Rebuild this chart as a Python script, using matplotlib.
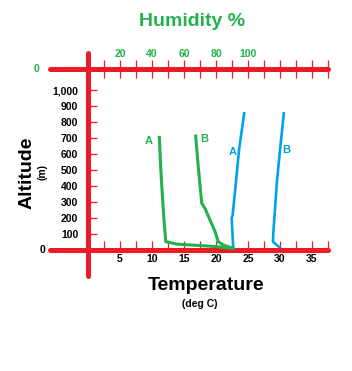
"""Temperature and humidity profiles against altitude."""

import matplotlib
matplotlib.use('Agg')
from matplotlib import pyplot as plt
from matplotlib.ticker import FixedLocator, FuncFormatter, NullFormatter

plt.rcParams['font.family'] = ['Liberation Sans', 'DejaVu Sans']
plt.rcParams['font.weight'] = 'bold'

RED = '#ED1C24'
GREEN = '#22B14C'
BLUE = '#00A2E8'

# Temperature profiles (deg C) against altitude (m)
temp_a_alt = [10, 198, 219, 417, 625, 854]
temp_a = [22.7, 22.45, 22.6, 23.1, 23.6, 24.4]
temp_b_alt = [10, 52, 104, 417, 625, 854]
temp_b = [30.1, 28.9, 28.95, 29.5, 30.0, 30.6]

# Humidity profiles (%) against altitude (m)
hum_a_alt = [704, 521, 354, 187, 52, 37, 29, 21, 10]
hum_a = [44.6, 45.4, 46.4, 47.5, 48.6, 55.4, 67.9, 80.4, 89.8]
hum_b_alt = [712, 521, 292, 260, 187, 115, 52, 31, 10]
hum_b = [67.3, 68.9, 71.1, 73.1, 76.3, 79.4, 81.4, 84.6, 90.8]

temp_ticks = [5, 10, 15, 20, 25, 30, 35]
hum_ticks = [20, 40, 60, 80, 100]
alt_ticks = [100, 200, 300, 400, 500, 600, 700, 800, 900, 1000]

W, H = 352, 371

fig = plt.figure(figsize=(W / 100, H / 100), dpi=100)
fig.patch.set_facecolor('white')

# temperature / altitude axes (whole figure, 6.4 px per deg, 16 px per 100 m)
ax = fig.add_axes([0, 0, 1, 1])
ax.set_xlim(-88 / 6.4, (W - 88) / 6.4)
ax.set_ylim(-(H - 250) * 6.25, 250 * 6.25)
ax.patch.set_visible(False)
for s in ['top', 'right']:
    ax.spines[s].set_visible(False)
for s in ['left', 'bottom']:
    ax.spines[s].set_color(RED)
    ax.spines[s].set_linewidth(3.6)
    ax.spines[s].set_capstyle('round')
    ax.spines[s].set_position(('data', 0))
ax.spines['bottom'].set_bounds(-38 / 6.4, 240 / 6.4)
ax.spines['left'].set_bounds(-162, 1231)

ax.xaxis.set_major_locator(FixedLocator(temp_ticks))
ax.xaxis.set_minor_locator(FixedLocator([t - 2.5 for t in temp_ticks] + [37.5]))
ax.xaxis.set_minor_formatter(NullFormatter())
ax.tick_params(axis='x', which='both', direction='in', length=6.5, width=0.9,
               color=RED, labelsize=7.5, pad=3)
ax.yaxis.set_major_locator(FixedLocator(alt_ticks))
ax.yaxis.set_major_formatter(FuncFormatter(lambda v, p: '{:,}'.format(int(v))))
ax.tick_params(axis='y', direction='in', length=6.5, width=0.9,
               color=RED, labelsize=7.5, pad=7)

ax.plot(temp_a, temp_a_alt, color=BLUE, lw=1.9)
ax.plot(temp_b, temp_b_alt, color=BLUE, lw=1.9)
ax.text(22.65, 614, 'A', color=BLUE, fontsize=8, ha='center', va='center')
ax.text(30.9, 625, 'B', color=BLUE, fontsize=8, ha='center', va='center')

# humidity axes on top (1.6 px per %)
ax2 = fig.add_axes([0, 0, 1, 1])
ax2.set_xlim(-88 / 1.6, (W - 88) / 1.6)
ax2.set_ylim(ax.get_ylim())
ax2.patch.set_visible(False)
for s in ['left', 'right', 'bottom']:
    ax2.spines[s].set_visible(False)
ax2.spines['top'].set_color(RED)
ax2.spines['top'].set_linewidth(3.6)
ax2.spines['top'].set_capstyle('round')
ax2.spines['top'].set_position(('data', (250 - 69) * 6.25))
ax2.spines['top'].set_bounds(-38 / 1.6, 240 / 1.6)
ax2.xaxis.tick_top()
ax2.xaxis.set_major_locator(FixedLocator(hum_ticks))
ax2.xaxis.set_minor_locator(FixedLocator([10, 30, 50, 70, 90] + list(range(110, 151, 10))))
ax2.xaxis.set_minor_formatter(NullFormatter())
ax2.tick_params(axis='x', which='both', direction='inout', length=13, width=0.9,
                color=RED, labelsize=7.5, labelcolor=GREEN, pad=1)
ax2.set_yticks([])

ax2.plot(hum_a, hum_a_alt, color=GREEN, lw=2.2)
ax2.plot(hum_b, hum_b_alt, color=GREEN, lw=2.2)
ax2.text(38, 681, 'A', color=GREEN, fontsize=8, ha='center', va='center')
ax2.text(72.5, 694, 'B', color=GREEN, fontsize=8, ha='center', va='center')

# titles and the two stray zero labels
fig.text(192 / W, 1 - 22 / H, 'Humidity %', color=GREEN, fontsize=14,
         ha='center', va='center')
fig.text(206 / W, 1 - 286 / H, 'Temperature', color='black', fontsize=14,
         ha='center', va='center')
fig.text(200 / W, 1 - 304 / H, '(deg C)', color='black', fontsize=7.5,
         ha='center', va='center')
fig.text(27 / W, 1 - 173 / H, 'Altitude', color='black', fontsize=14,
         rotation=90, ha='center', va='center')
fig.text(43 / W, 1 - 172 / H, '(m)', color='black', fontsize=7.5,
         rotation=90, ha='center', va='center')
fig.text(36 / W, 1 - 69 / H, '0', color=GREEN, fontsize=7.5,
         ha='center', va='center')
fig.text(42 / W, 1 - 250 / H, '0', color='black', fontsize=7.5,
         ha='center', va='center')

fig.savefig('out.png', dpi=100)
